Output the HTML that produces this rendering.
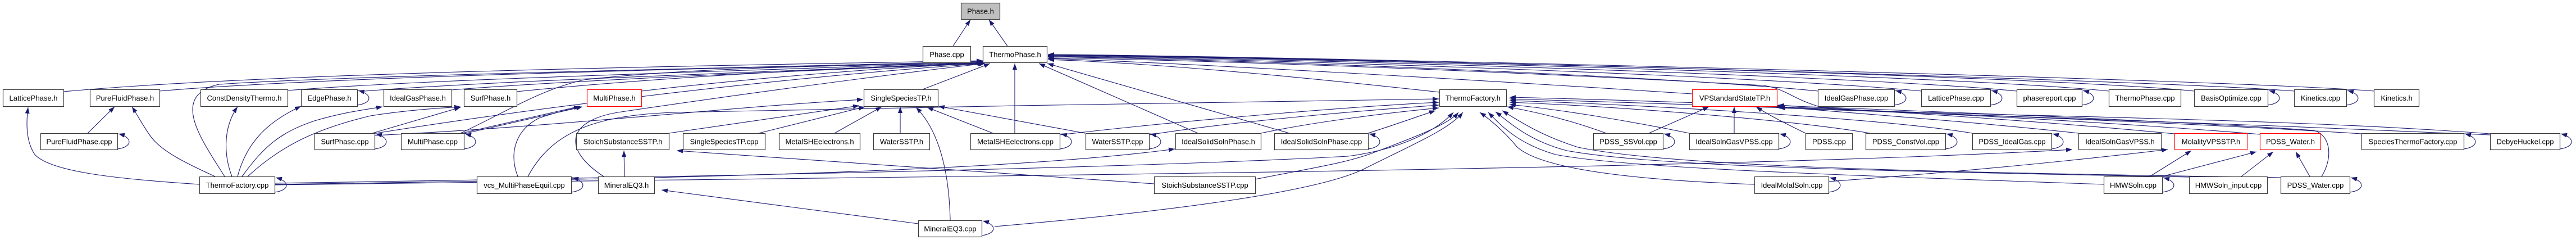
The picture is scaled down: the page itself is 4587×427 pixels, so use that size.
<!DOCTYPE html>
<html><head><meta charset="utf-8"><style>
html,body{margin:0;padding:0;background:#fff;}
svg{display:block;}
text{font-family:"Liberation Sans",Arial,sans-serif;font-size:13px;fill:#000;text-anchor:middle;}
.n{fill:#fff;stroke:#3a3a3a;stroke-width:1.2;}
.r{fill:#fff;stroke:#ff0000;stroke-width:1.2;}
.g{fill:#bfbfbf;stroke:#3a3a3a;stroke-width:1.2;}
path{fill:none;stroke:#191970;stroke-width:1.1;marker-end:url(#a);}
</style></head><body>
<svg width="4587" height="427" viewBox="0 0 4587 427" xmlns="http://www.w3.org/2000/svg">
<defs><marker id="a" markerWidth="11" markerHeight="8" refX="11" refY="4" orient="auto" markerUnits="userSpaceOnUse"><polygon points="0,0 11,4 0,8" style="fill:#191970;stroke:none"/></marker></defs>

<!-- edges to Phase.h -->
<path d="M1697,82 L1728,35"/>
<path d="M1794,82 L1761,35"/>

<!-- left bundle to ThermoPhase.h -->
<path d="M113,163 C500,128 1300,116 1750,108"/>
<path d="M284,162 C600,135 1300,122 1750,109"/>
<path d="M400,314 C360,250 300,170 390,150 C600,135 1400,118 1750,110"/>
<path d="M512,161 C800,138 1400,125 1750,110"/>
<path d="M650,162 C900,142 1400,128 1750,111"/>
<path d="M804,160 C1050,140 1500,124 1751,112"/>
<path d="M920,163 C1200,135 1550,118 1752,112"/>
<path d="M1142,162 C1350,138 1600,118 1753,113"/>
<path d="M663,238 C900,200 1350,140 1753,113"/>
<path d="M820,237 C900,200 960,160 1040,142 C1250,118 1550,116 1752,112"/>
<path d="M1075,314 C1000,265 1010,215 1100,200 C1300,170 1600,130 1754,113"/>
<path d="M1643,159 L1763,113"/>
<path d="M1807,237 L1807,113"/>
<path d="M2133,237 L1850,113"/>
<path d="M2296,237 L1865,113"/>

<!-- right bundle to ThermoPhase.h -->
<path d="M2563,164 C2300,135 2050,112 1866,106"/>
<path d="M3013,167 C2600,140 2100,112 1866,104"/>
<path d="M3237,162 C3000,138 2300,108 1866,101"/>
<path d="M3421,162 C3150,136 2300,106 1866,100"/>
<path d="M3591,162 C3300,134 2300,104 1866,99"/>
<path d="M3755,162 C3450,132 2300,103 1866,98"/>
<path d="M3907,162 C3600,132 2300,102 1866,98"/>
<path d="M4085,162 C3800,140 2300,101 1866,97"/>
<path d="M4227,162 C3950,140 2300,100 1866,97"/>
<path d="M4434,238 C4000,205 3320,205 3240,190 C3190,175 3180,158 3140,152 C2700,128 2200,108 1866,103"/>

<!-- to SingleSpeciesTP.h -->
<path d="M1191,237 L1530,188"/>
<path d="M1351,237 L1540,190"/>
<path d="M1486,237 L1570,190"/>
<path d="M1603,237 L1603,190"/>
<path d="M1692,392 C1690,300 1670,230 1631,191"/>
<path d="M1768,237 L1651,191"/>
<path d="M1932,237 L1671,189"/>
<path d="M667,241 C1000,225 1300,190 1537,177"/>

<!-- misc left -->
<path d="M156,237 L204,190"/>
<path d="M355,328 C200,318 90,305 62,275 C45,250 47,215 50,191"/>
<path d="M383,314 C330,290 290,270 270,245 C255,225 245,205 235,190"/>
<path d="M413,314 C400,280 395,230 423,190"/>
<path d="M423,314 C440,250 480,215 536,189"/>
<path d="M431,314 C470,260 500,235 560,215 C610,200 650,195 681,190"/>
<path d="M441,314 C500,260 560,230 660,206 C730,195 790,192 820,190"/>
<path d="M663,237 L820,191"/>
<path d="M826,238 L1037,190"/>
<path d="M822,237 L1033,189"/>
<path d="M922,314 C905,270 920,230 960,210 C990,200 1010,195 1037,190"/>
<path d="M1112,314 L1111,268"/>
<path d="M1635,398 L1178,338"/>
<path d="M2055,327 C1700,300 1400,280 1205,268"/>

<!-- long lines from ThermoFactory.cpp -->
<path d="M489,326 C1200,315 2000,300 2400,278 C2500,265 2560,230 2588,200"/>
<path d="M489,328 C1200,318 1800,305 2092,265"/>
<path d="M489,329 C1500,315 3000,305 3690,266"/>
<path d="M940,314 C980,240 1050,205 1200,200 C1600,192 2200,180 2562,176"/>

<!-- to ThermoFactory.h -->
<path d="M1887,240 C2100,215 2400,190 2562,182"/>
<path d="M2046,240 C2200,215 2450,195 2562,187"/>
<path d="M2245,237 C2350,215 2480,200 2562,192"/>
<path d="M2436,237 C2490,220 2530,205 2556,197"/>
<path d="M1771,403 C2100,375 2350,340 2430,300 C2520,255 2580,230 2605,200"/>
<path d="M2235,319 C2330,300 2400,290 2450,270 C2530,240 2580,220 2597,200"/>
<path d="M3124,328 C2900,320 2740,300 2700,260 C2680,235 2650,210 2635,200"/>
<path d="M3746,328 C3300,312 2900,300 2770,275 C2700,255 2670,220 2650,200"/>
<path d="M3898,315 C3400,305 2950,298 2790,268 C2720,250 2685,215 2663,199"/>
<path d="M4061,316 C3600,308 3000,302 2810,262 C2740,240 2700,212 2675,197"/>
<path d="M2860,237 C2800,215 2740,200 2684,190"/>
<path d="M3008,237 C2900,215 2780,195 2688,186"/>
<path d="M3330,237 C3200,215 2900,190 2688,182"/>
<path d="M3512,237 C3350,210 2900,185 2688,179"/>
<path d="M4205,238 C3800,212 3000,185 2688,176"/>
<path d="M4134,314 C4155,280 4150,240 4120,232 C3800,210 3000,180 2688,173"/>

<!-- to VPStandardStateTP.h -->
<path d="M2936,237 L3043,190"/>
<path d="M3088,237 L3088,190"/>
<path d="M3215,237 C3180,220 3150,205 3127,190"/>
<path d="M3701,237 C3500,215 3250,198 3160,189"/>
<path d="M3872,238 C3600,212 3300,195 3166,187"/>
<path d="M4024,239 C3700,212 3300,195 3166,190"/>
<path d="M4434,240 C4000,220 3500,205 3168,192"/>

<!-- lower right -->
<path d="M3256,323 C3500,305 3700,285 3860,266"/>
<path d="M3828,314 L3902,268"/>
<path d="M3850,314 L4018,270"/>
<path d="M3991,314 L4048,270"/>
<path d="M4113,314 L4088,270"/>

<!-- self loops row2 (T=159.5,B=189.5) -->
<path d="M636,187 C662,184 665,168 638,161"/>
<path d="M3373,187 C3399,184 3402,168 3375,161"/>
<path d="M3544,187 C3570,184 3573,168 3546,161"/>
<path d="M3707,187 C3733,184 3736,168 3709,161"/>
<path d="M4038,187 C4064,184 4067,168 4040,161"/>
<path d="M4178,187 C4204,184 4207,168 4180,161"/>
<!-- row3 (T=237,B=267) -->
<path d="M209,265 C235,262 238,245 211,238"/>
<path d="M667,265 C693,262 696,245 669,238"/>
<path d="M826,265 C852,262 855,245 828,238"/>
<path d="M1887,265 C1913,262 1916,245 1889,238"/>
<path d="M2046,265 C2072,262 2075,245 2048,238"/>
<path d="M2436,265 C2462,262 2465,245 2438,238"/>
<path d="M2961,265 C2987,262 2990,245 2963,238"/>
<path d="M3167,265 C3193,262 3196,245 3169,238"/>
<path d="M3464,265 C3490,262 3493,245 3466,238"/>
<path d="M3653,265 C3679,262 3682,245 3655,238"/>
<path d="M4387,265 C4413,262 4416,245 4389,238"/>
<path d="M4558,265 C4584,262 4587,245 4560,238"/>
<!-- row4 (T=314.5,B=344.5) -->
<path d="M489,342 C515,339 518,323 491,316"/>
<path d="M1017,342 C1043,339 1046,323 1019,316"/>
<path d="M3256,342 C3282,339 3285,323 3258,316"/>
<path d="M3850,342 C3876,339 3879,323 3852,316"/>
<path d="M4184,342 C4210,339 4213,323 4186,316"/>
<!-- row5 -->
<path d="M1748,419 C1774,416 1777,400 1750,393"/>

<!-- NODES -->
<rect class="g" x="1711.5" y="5.5" width="69" height="29"/><text x="1746" y="24.5">Phase.h</text>

<rect class="n" x="1643.5" y="82.5" width="85" height="29"/><text x="1686" y="101.5">Phase.cpp</text>
<rect class="n" x="1750.5" y="82.5" width="114" height="29"/><text x="1807.5" y="101.5">ThermoPhase.h</text>

<g>
<rect class="n" x="5.5" y="159.5" width="108" height="30"/><text x="59.5" y="179">LatticePhase.h</text>
<rect class="n" x="160.5" y="159.5" width="124" height="30"/><text x="222.5" y="179">PureFluidPhase.h</text>
<rect class="n" x="357.5" y="159.5" width="155" height="30"/><text x="435" y="179">ConstDensityThermo.h</text>
<rect class="n" x="536.5" y="159.5" width="100" height="30"/><text x="586.5" y="179">EdgePhase.h</text>
<rect class="n" x="683.5" y="159.5" width="121" height="30"/><text x="744" y="179">IdealGasPhase.h</text>
<rect class="n" x="826.5" y="159.5" width="94" height="30"/><text x="873.5" y="179">SurfPhase.h</text>
<rect class="r" x="1045.5" y="159.5" width="97" height="30"/><text x="1094" y="179">MultiPhase.h</text>
<rect class="n" x="1538.5" y="159.5" width="132" height="30"/><text x="1604.5" y="179">SingleSpeciesTP.h</text>
<rect class="n" x="2563.5" y="159.5" width="119" height="30"/><text x="2623" y="179">ThermoFactory.h</text>
<rect class="r" x="3013.5" y="159.5" width="151" height="30"/><text x="3089" y="179">VPStandardStateTP.h</text>
<rect class="n" x="3237.5" y="159.5" width="136" height="30"/><text x="3305.5" y="179">IdealGasPhase.cpp</text>
<rect class="n" x="3421.5" y="159.5" width="123" height="30"/><text x="3483" y="179">LatticePhase.cpp</text>
<rect class="n" x="3591.5" y="159.5" width="116" height="30"/><text x="3649.5" y="179">phasereport.cpp</text>
<rect class="n" x="3755.5" y="159.5" width="128" height="30"/><text x="3819.5" y="179">ThermoPhase.cpp</text>
<rect class="n" x="3907.5" y="159.5" width="131" height="30"/><text x="3973" y="179">BasisOptimize.cpp</text>
<rect class="n" x="4085.5" y="159.5" width="93" height="30"/><text x="4132" y="179">Kinetics.cpp</text>
<rect class="n" x="4227.5" y="159.5" width="80" height="30"/><text x="4267.5" y="179">Kinetics.h</text>
</g>

<g>
<rect class="n" x="72.5" y="237.5" width="137" height="29"/><text x="141" y="256.5">PureFluidPhase.cpp</text>
<rect class="n" x="560.5" y="237.5" width="107" height="29"/><text x="614" y="256.5">SurfPhase.cpp</text>
<rect class="n" x="714.5" y="237.5" width="112" height="29"/><text x="770.5" y="256.5">MultiPhase.cpp</text>
<rect class="n" x="1026.5" y="237.5" width="165" height="29"/><text x="1109" y="256.5">StoichSubstanceSSTP.h</text>
<rect class="n" x="1216.5" y="237.5" width="146" height="29"/><text x="1289.5" y="256.5">SingleSpeciesTP.cpp</text>
<rect class="n" x="1387.5" y="237.5" width="144" height="29"/><text x="1459.5" y="256.5">MetalSHEelectrons.h</text>
<rect class="n" x="1555.5" y="237.5" width="100" height="29"/><text x="1605.5" y="256.5">WaterSSTP.h</text>
<rect class="n" x="1728.5" y="237.5" width="159" height="29"/><text x="1808" y="256.5">MetalSHEelectrons.cpp</text>
<rect class="n" x="1933.5" y="237.5" width="113" height="29"/><text x="1990" y="256.5">WaterSSTP.cpp</text>
<rect class="n" x="2093.5" y="237.5" width="152" height="29"/><text x="2169.5" y="256.5">IdealSolidSolnPhase.h</text>
<rect class="n" x="2269.5" y="237.5" width="167" height="29"/><text x="2353" y="256.5">IdealSolidSolnPhase.cpp</text>
<rect class="n" x="2837.5" y="237.5" width="124" height="29"/><text x="2899.5" y="256.5">PDSS_SSVol.cpp</text>
<rect class="n" x="3008.5" y="237.5" width="159" height="29"/><text x="3088" y="256.5">IdealSolnGasVPSS.cpp</text>
<rect class="n" x="3215.5" y="237.5" width="83" height="29"/><text x="3257" y="256.5">PDSS.cpp</text>
<rect class="n" x="3322.5" y="237.5" width="142" height="29"/><text x="3393.5" y="256.5">PDSS_ConstVol.cpp</text>
<rect class="n" x="3512.5" y="237.5" width="141" height="29"/><text x="3583" y="256.5">PDSS_IdealGas.cpp</text>
<rect class="n" x="3701.5" y="237.5" width="147" height="29"/><text x="3775" y="256.5">IdealSolnGasVPSS.h</text>
<rect class="r" x="3872.5" y="237.5" width="129" height="29"/><text x="3937" y="256.5">MolalityVPSSTP.h</text>
<rect class="r" x="4024.5" y="237.5" width="108" height="29"/><text x="4078.5" y="256.5">PDSS_Water.h</text>
<rect class="n" x="4205.5" y="237.5" width="182" height="29"/><text x="4296.5" y="256.5">SpeciesThermoFactory.cpp</text>
<rect class="n" x="4434.5" y="237.5" width="124" height="29"/><text x="4496.5" y="256.5">DebyeHuckel.cpp</text>
</g>

<g>
<rect class="n" x="355.5" y="314.5" width="134" height="30"/><text x="422.5" y="334">ThermoFactory.cpp</text>
<rect class="n" x="849.5" y="314.5" width="168" height="30"/><text x="933.5" y="334">vcs_MultiPhaseEquil.cpp</text>
<rect class="n" x="1065.5" y="314.5" width="100" height="30"/><text x="1115.5" y="334">MineralEQ3.h</text>
<rect class="n" x="2055.5" y="314.5" width="180" height="30"/><text x="2145.5" y="334">StoichSubstanceSSTP.cpp</text>
<rect class="n" x="3124.5" y="314.5" width="132" height="30"/><text x="3190.5" y="334">IdealMolalSoln.cpp</text>
<rect class="n" x="3746.5" y="314.5" width="104" height="30"/><text x="3798.5" y="334">HMWSoln.cpp</text>
<rect class="n" x="3898.5" y="314.5" width="139" height="30"/><text x="3968" y="334">HMWSoln_input.cpp</text>
<rect class="n" x="4061.5" y="314.5" width="123" height="30"/><text x="4123" y="334">PDSS_Water.cpp</text>
</g>

<rect class="n" x="1635.5" y="392.5" width="113" height="29"/><text x="1692" y="411.5">MineralEQ3.cpp</text>
</svg>
</body></html>
